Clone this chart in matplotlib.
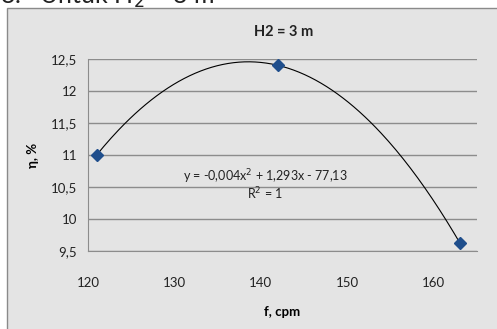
import numpy as np
import matplotlib.pyplot as plt
import matplotlib.ticker as mticker
from matplotlib.patches import Rectangle

plt.rcParams["font.family"] = ["Lato", "DejaVu Sans"]

# data
f_cpm = [121, 142, 163]
eta = [11.0, 12.4, 9.63]
y_ticks = [9.5, 10, 10.5, 11, 11.5, 12, 12.5]
x_ticks = [120, 130, 140, 150, 160]

W, H = 497, 329
fig = plt.figure(figsize=(W / 100, H / 100), dpi=100)
fig.patch.set_facecolor("white")

# chart box (grey, thin border), cut by the image edges
box = Rectangle((7 / W, -0.01), 1.02, (H - 8) / H + 0.01, transform=fig.transFigure,
                facecolor="#E4E4E4", edgecolor="#8A8A8A", lw=1.0, zorder=-10)
fig.patches.append(box)

# heading of the page, mostly cut off at the top
fig.text(0.0, 1 - 4 / H, "3.   Untuk H$_2$ = 3 m", fontsize=18, ha="left", va="baseline",
         color="#222222")

ax = fig.add_axes([88 / W, 1 - 251 / H, (477 - 88) / W, (251 - 59) / H])
ax.set_facecolor("#E4E4E4")
ax.set_xlim(120, 165)
ax.set_ylim(9.5, 12.5)

ax.set_yticks(y_ticks)
ax.set_xticks(x_ticks)
ax.yaxis.set_major_formatter(mticker.FuncFormatter(
    lambda v, p: f"{v:g}".replace(".", ",")))
ax.tick_params(length=0, labelsize=9.5, colors="#222222", pad=8)
ax.tick_params(axis="x", pad=19)
ax.grid(axis="y", color="#8C8C8C", lw=1.0)
ax.set_axisbelow(True)
for s in ["top", "right"]:
    ax.spines[s].set_visible(False)
for s in ["left", "bottom"]:
    ax.spines[s].set_color("#8C8C8C")

# polynomial trendline (order 2) through the points
coef = np.polyfit(f_cpm, eta, 2)
xs = np.linspace(min(f_cpm), max(f_cpm), 200)
ax.plot(xs, np.polyval(coef, xs), color="black", lw=0.8, zorder=3)
ax.plot(f_cpm, eta, ls="none", marker="D", ms=6, color="#1F4E8C", zorder=4)

ax.text(0.455, 0.345, "y = -0,004x$^2$ + 1,293x - 77,13\nR$^2$ = 1", transform=ax.transAxes,
        ha="center", va="center", fontsize=9, linespacing=1.0, color="#222222")

ax.set_xlabel("f, cpm", fontsize=9.5, fontweight="bold", labelpad=12)
ax.set_ylabel("η, %", fontsize=9.5, fontweight="bold", labelpad=8)
fig.text(0.57, 1 - 32 / H, "H2 = 3 m", ha="center", va="center", fontsize=10.5,
         fontweight="bold", color="#222222")

fig.savefig("out.png", dpi=100, facecolor=fig.get_facecolor())
